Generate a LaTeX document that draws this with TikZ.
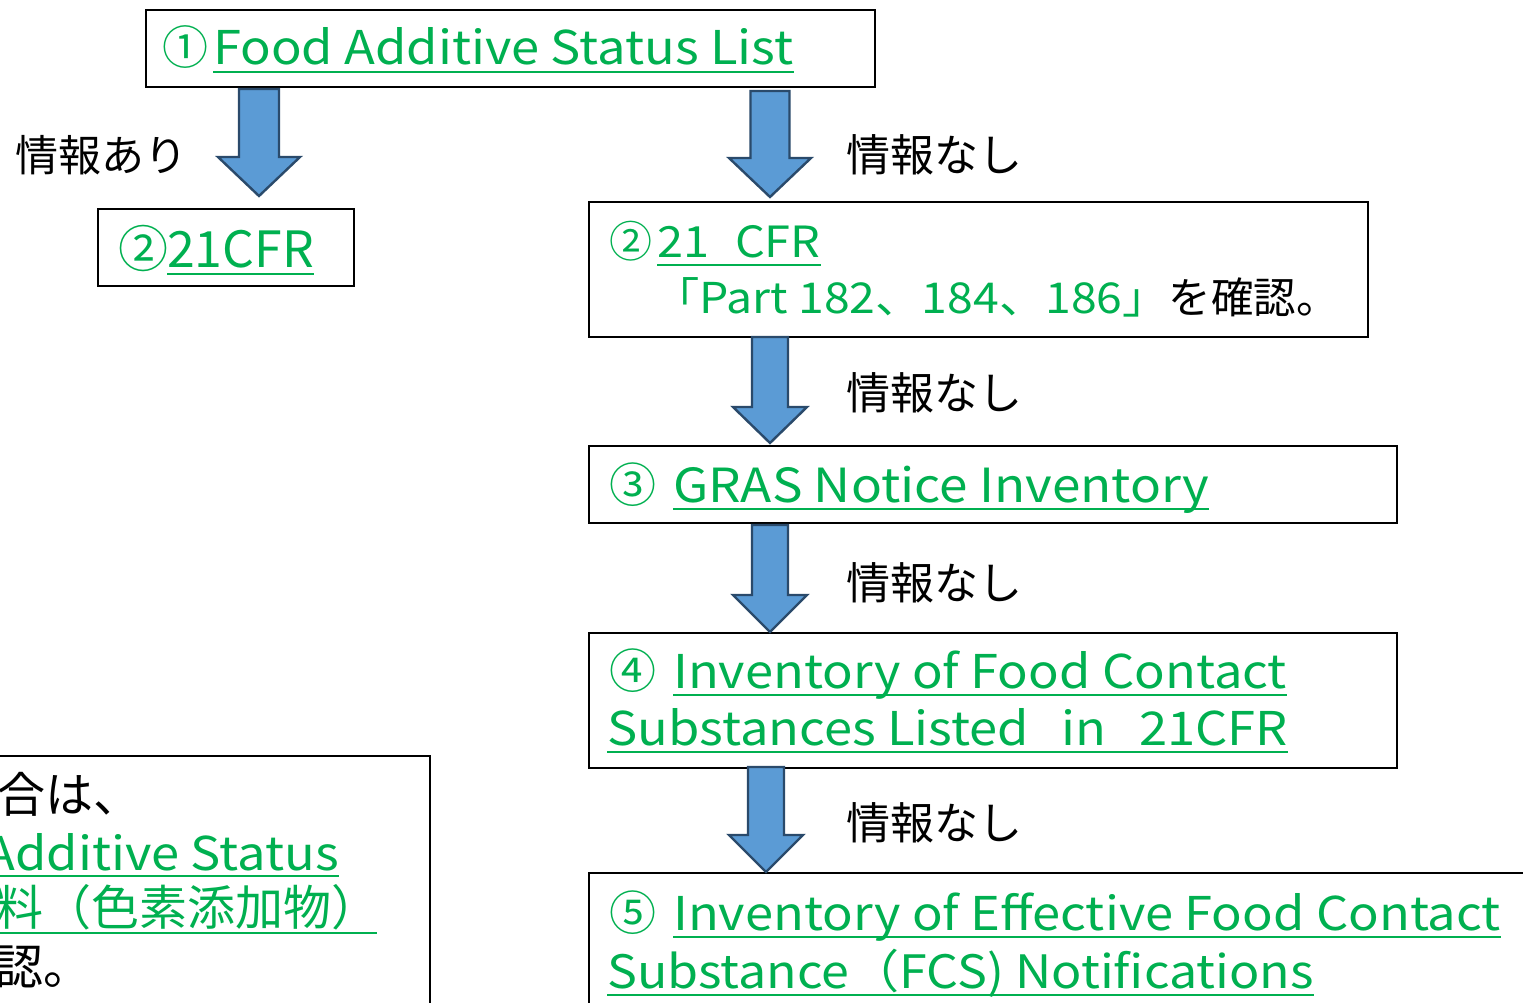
\documentclass[tikz,border=0pt]{standalone}
\usepackage{fontspec}
\setmainfont{Noto Sans CJK JP}
\newfontfamily\lat[FakeStretch=1.09]{Noto Sans CJK JP}
\definecolor{lgreen}{HTML}{00B050}
\definecolor{afill}{HTML}{5B9BD5}
\definecolor{aedge}{HTML}{2A4A6B}
\newcommand\fsz[1]{\fontsize{#1}{#1}\selectfont}
\newcommand\ulnode[1]{\draw[ulst] ([yshift=-7pt]#1.base west) -- ([yshift=-7pt]#1.base east);}
\newcommand\barrow[5]{%
  \draw[barrowst] ([xshift=-#3pt]#1) -- ([xshift=#3pt]#1) -- ([xshift=#3pt,yshift=#5pt]#2)
   -- ([xshift=#4pt,yshift=#5pt]#2) -- (#2) -- ([xshift=-#4pt,yshift=#5pt]#2)
   -- ([xshift=-#3pt,yshift=#5pt]#2) -- cycle;}
\tikzset{
  box/.style={draw=black, line width=1.8pt, inner sep=0pt, anchor=north west},
  gtxt/.style={text=lgreen, inner sep=0pt, anchor=base west},
  btxt/.style={text=black, inner sep=0pt, anchor=base west},
  ulst/.style={draw=lgreen, line width=2.6pt},
  barrowst/.style={fill=afill, draw=aedge, line width=2.4pt, line join=miter},
}
\begin{document}
\begin{tikzpicture}[x=1pt, y=-1pt]
\path[use as bounding box] (0,0) rectangle (1523,1003);
\clip (0,0) rectangle (1523,1003);
\fill[white] (0,0) rectangle (1523,1003);

% boxes
\node[box, minimum width=729pt, minimum height=77pt] (b1) at (145,9) {};
\node[box, minimum width=256pt, minimum height=77pt] (b2l) at (97,208) {};
\node[box, minimum width=779pt, minimum height=135pt] (b2r) at (588,201) {};
\node[box, minimum width=808pt, minimum height=77pt] (b3) at (588,445) {};
\node[box, minimum width=808pt, minimum height=135pt] (b4) at (588,632) {};
\node[box, minimum width=1000pt, minimum height=200pt] (b5) at (588,872) {};
\node[box, minimum width=480pt, minimum height=300pt] (bl) at (-51,755) {};

% box 1
\node[gtxt, font=\fsz{46}] (n1) at (162,65) {①};
\node[gtxt, font=\lat\fsz{46.5}] (t1) at (213,65) {Food Additive Status List};
\ulnode{t1}

% labels
\node[btxt, font=\fsz{43}] (l1) at (15,172) {情報あり};
\node[btxt, font=\fsz{44}] (l2) at (846,172) {情報なし};
\node[btxt, font=\fsz{44}] (l3) at (846,409) {情報なし};
\node[btxt, font=\fsz{44}] (l4) at (846,599) {情報なし};
\node[btxt, font=\fsz{44}] (l5) at (846,839) {情報なし};

% box 2 left
\node[gtxt, font=\fsz{50}] (n2l) at (118,267) {②};
\node[gtxt, font=\fsz{50}] (t2l) at (167,267) {21CFR};
\ulnode{t2l}

% box 2 right
\node[gtxt, font=\fsz{43}] (n2r) at (609,258) {②};
\node[gtxt, font=\lat\fsz{43}] (t2r) at (657,258) {21\hspace{0.6em}CFR};
\ulnode{t2r}
\node[btxt, font=\fsz{42.5}] (t2r2) at (653,313) {\textcolor{lgreen}{\lat「Part 182、184、186」}を確認。};

% box 3
\node[gtxt, font=\fsz{47}] (n3) at (609,502) {③};
\node[gtxt, font=\lat\fsz{47}] (t3) at (673,502) {GRAS Notice Inventory};
\ulnode{t3}

% box 4
\node[gtxt, font=\fsz{47}] (n4) at (609,688) {④};
\node[gtxt, font=\lat\fsz{46.5}] (t4) at (673,688) {Inventory of Food Contact};
\ulnode{t4}
\node[gtxt, font=\lat\fsz{46.5}] (t4b) at (607,745) {Substances Listed\hspace{0.7em}in\hspace{0.7em}21CFR};
\ulnode{t4b}

% box 5
\node[gtxt, font=\fsz{47}] (n5) at (609,930) {⑤};
\node[gtxt, font=\lat\fsz{46.5}] (t5) at (673,930) {Inventory of Effective Food Contact};
\ulnode{t5}
\node[gtxt, font=\lat\fsz{46}] (t5b) at (607,988) {Substance（FCS) Notifications};
\ulnode{t5b}

% bottom-left box (cropped at the picture's edges)
\node[btxt, font=\fsz{48}] (bl1) at (-3,812) {合は、};
\node[gtxt, font=\lat\fsz{46.5}, anchor=base east] (bl2) at (339,870) {Additive Status};
\draw[ulst] ([yshift=-6pt,xshift=-20pt]bl2.base west) -- ([yshift=-6pt]bl2.base east);
\node[gtxt, font=\fsz{48}] (bl3) at (-5,925) {料（色素添加物）};
\draw[ulst] ([yshift=-8pt]bl3.base west) -- ([yshift=-8pt]bl3.base west -| 377,0);
\node[btxt, font=\fsz{48}] (bl4) at (-5,984) {認。};

% arrows
\coordinate (a1s) at (259,89);  \coordinate (a1e) at (259,196);
\coordinate (a2s) at (770,91);  \coordinate (a2e) at (770,197);
\coordinate (a3s) at (770,337); \coordinate (a3e) at (770,443);
\coordinate (a4s) at (770,525); \coordinate (a4e) at (770,632);
\coordinate (a5s) at (766,767); \coordinate (a5e) at (766,872);
\barrow{a1s}{a1e}{20}{41}{39}
\barrow{a2s}{a2e}{19.5}{41}{39}
\barrow{a3s}{a3e}{18}{37}{36}
\barrow{a4s}{a4e}{18}{37}{37}
\barrow{a5s}{a5e}{18}{37}{37}
\end{tikzpicture}
\end{document}
